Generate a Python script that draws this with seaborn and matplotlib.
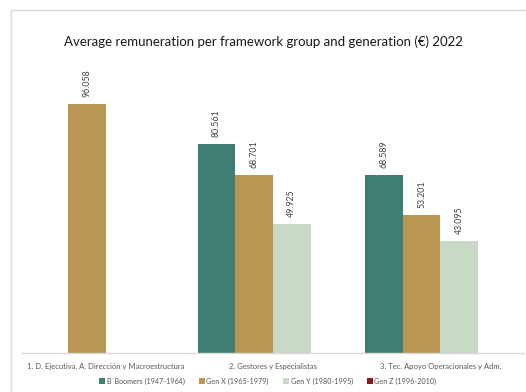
import numpy as np
import pandas as pd
import seaborn as sns
import matplotlib.pyplot as plt
from matplotlib.patches import Patch, Rectangle

# Framework groups and generations
groups = [
    "1. D. Ejecutiva, A. Dirección y Macroestructura",
    "2. Gestores y Especialistas",
    "3. Tec. Apoyo Operacionales y Adm.",
]
generations = [
    "B´Boomers (1947-1964)",
    "Gen X (1965-1979)",
    "Gen Y (1980-1995)",
    "Gen Z (1996-2010)",
]
colors = ["#3F7F73", "#B99752", "#C8DAC6", "#8B1A1A"]

# Average remuneration (€) per generation, one value per framework group
boomers = [np.nan, 80561, 68589]
gen_x = [96058, 68701, 53201]
gen_y = [np.nan, 49925, 43095]
gen_z = [np.nan, np.nan, np.nan]

series = [boomers, gen_x, gen_y, gen_z]
df = pd.DataFrame(
    [(g, gen, v) for gen, vals in zip(generations, series) for g, v in zip(groups, vals)],
    columns=["group", "generation", "value"],
)

sns.set_theme(style="white")
plt.rcParams["font.family"] = ["Lato", "DejaVu Sans"]

fig = plt.figure(figsize=(5.26, 3.92), dpi=100)
ax = fig.add_axes([22 / 526, 39 / 392, 502 / 526, 293 / 392])

sns.barplot(
    data=df, x="group", y="value", hue="generation",
    order=groups, hue_order=generations, palette=colors, saturation=1,
    width=0.9, dodge=True, errorbar=None, legend=False, ax=ax,
    linewidth=0,
)

ax.set_xlim(-0.5, 2.5)
ax.set_ylim(0, 113000)

# Rotated value labels above each bar
for cont in ax.containers:
    vals = cont.datavalues
    labels = ["" if np.isnan(v) else f"{v:,.0f}".replace(",", ".") for v in vals]
    ax.bar_label(cont, labels=labels, rotation=90, padding=5,
                 fontsize=6.3, color="#404040")

ax.set_xlabel("")
ax.set_ylabel("")
ax.set_yticks([])
ax.tick_params(axis="x", length=0, pad=7, labelsize=5.5, labelcolor="#595959")
for side in ["left", "right", "top"]:
    ax.spines[side].set_visible(False)
ax.spines["bottom"].set_color("#D9D9D9")
ax.spines["bottom"].set_linewidth(1)

fig.text(263 / 526, 1 - 42 / 392,
         "Average remuneration per framework group and generation (€) 2022",
         ha="center", va="center", fontsize=9.5, color="#1a1a1a")

handles = [Patch(facecolor=c, edgecolor="none") for c in colors]
fig.legend(handles, generations, loc="center", bbox_to_anchor=(268 / 526, 1 - 381 / 392),
           ncol=4, frameon=False, fontsize=5.2, handlelength=0.8, handleheight=0.9,
           handletextpad=0.2, columnspacing=2.0, labelcolor="#595959")

# Chart-area frame
fig.patches.append(Rectangle((11 / 526, -0.1), 1.0, 1 - 10 / 392 + 0.1,
                             transform=fig.transFigure, fill=False,
                             edgecolor="#D9D9D9", linewidth=1))

fig.savefig("out.png", dpi=100)
